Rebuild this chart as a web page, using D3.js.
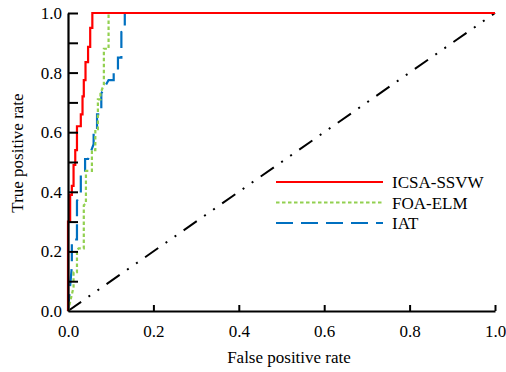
<!DOCTYPE html>
<html>
<head>
<meta charset="utf-8">
<script src="https://cdn.jsdelivr.net/npm/d3@7"></script>
<style>
  body { margin: 0; background: #fff; }
</style>
</head>
<body>
<div id="roc"></div>
<script>
// ROC points: [false positive rate, true positive rate]
var icsaPts = [[0,0],[0,0.30],[0.005,0.30],[0.005,0.39],[0.009,0.39],[0.009,0.42],[0.013,0.42],[0.013,0.49],
  [0.017,0.49],[0.017,0.54],[0.021,0.54],[0.021,0.62],[0.030,0.62],[0.030,0.66],[0.034,0.66],[0.034,0.72],
  [0.037,0.72],[0.037,0.775],[0.041,0.775],[0.041,0.835],[0.047,0.835],[0.047,0.886],[0.052,0.886],[0.052,0.95],
  [0.057,0.95],[0.057,1.0],[1.0,1.0]];
var foaPts = [[0,0],[0.013,0.08],[0.013,0.13],[0.021,0.13],[0.021,0.205],[0.025,0.21],[0.037,0.21],[0.037,0.355],
  [0.042,0.36],[0.042,0.47],[0.056,0.47],[0.056,0.54],[0.064,0.54],[0.064,0.61],[0.070,0.61],[0.070,0.71],
  [0.076,0.71],[0.076,0.73],[0.084,0.76],[0.084,0.88],[0.095,0.88],[0.095,1.0],[1.0,1.0]];
var iatPts = [[0,0],[0.009,0.15],[0.009,0.24],[0.021,0.24],[0.021,0.37],[0.030,0.39],[0.030,0.47],[0.040,0.47],
  [0.040,0.51],[0.047,0.51],[0.060,0.56],[0.060,0.60],[0.068,0.60],[0.068,0.66],[0.078,0.66],[0.078,0.73],
  [0.095,0.775],[0.107,0.775],[0.107,0.80],[0.117,0.80],[0.117,0.85],[0.125,0.85],[0.125,0.936],[0.133,0.94],
  [0.133,1.0],[1.0,1.0]];
var chancePts = [[0,0],[1,1]];
var seriesNames = ["ICSA-SSVW", "FOA-ELM", "IAT"];
var xTicks = [0, 0.2, 0.4, 0.6, 0.8, 1.0];
var yTicks = [0, 0.1, 0.2, 0.3, 0.4, 0.5, 0.6, 0.7, 0.8, 0.9, 1.0];
var yLabelTicks = [0, 0.2, 0.4, 0.6, 0.8, 1.0];

var W = 506, H = 372;
var margin = {top: 13, right: 11, bottom: 61, left: 68},
    width = W - margin.left - margin.right,
    height = H - margin.top - margin.bottom;

var svg = d3.select("#roc").append("svg")
    .attr("width", W).attr("height", H)
  .append("g")
    .attr("transform", "translate(" + margin.left + "," + margin.top + ")");

var x = d3.scaleLinear().domain([0, 1]).range([0, width]);
var y = d3.scaleLinear().domain([0, 1]).range([height, 0]);
var line = d3.line().x(d => x(d[0])).y(d => y(d[1]));

// chance diagonal, dash-dot-dot
svg.append("path").datum(chancePts)
  .attr("d", line).attr("fill", "none")
  .attr("stroke", "#000").attr("stroke-width", 2)
  .attr("stroke-dasharray", "16,9,2,9,2,9");

var styles = [
  {pts: icsaPts, color: "#ff0000", dash: null},
  {pts: foaPts, color: "#92d050", dash: "3.5,2.5"},
  {pts: iatPts, color: "#0070c0", dash: "17,8"}
];

// red drawn last so it sits on top along tpr = 1
styles.slice().reverse().forEach(s => {
  svg.append("path").datum(s.pts)
    .attr("d", line).attr("fill", "none")
    .attr("stroke", s.color).attr("stroke-width", 2.2)
    .attr("stroke-dasharray", s.dash);
});

// axes
var xAxis = svg.append("g")
  .attr("transform", "translate(0," + height + ")")
  .call(d3.axisBottom(x).tickValues(xTicks).tickFormat(d3.format(".1f")).tickSize(-6).tickSizeOuter(0).tickPadding(14));
xAxis.select(".domain").attr("stroke-width", 2.2);
xAxis.selectAll(".tick line").attr("stroke-width", 2);
xAxis.selectAll(".tick").filter(d => d === 0).select("line").remove();

var yAxis = svg.append("g")
  .call(d3.axisLeft(y).tickValues(yTicks).tickFormat(d => yLabelTicks.includes(d) ? d3.format(".1f")(d) : "")
    .tickSize(-10).tickSizeOuter(0).tickPadding(6));
yAxis.select(".domain").attr("stroke-width", 2.2);
yAxis.selectAll(".tick line").attr("stroke-width", 2);
yAxis.selectAll(".tick").filter(d => d === 0).select("line").remove();

// axis titles
svg.append("text")
  .attr("x", 221).attr("y", height + 52)
  .attr("text-anchor", "middle")
  .text("False positive rate");

svg.append("text")
  .attr("transform", "rotate(-90)")
  .attr("x", -140).attr("y", -45)
  .attr("text-anchor", "middle")
  .text("True positive rate");

// legend
var legend = svg.append("g").attr("transform", "translate(208,169)");
styles.forEach((s, i) => {
  var row = legend.append("g").attr("transform", "translate(0," + (i * 20.5) + ")");
  row.append("line")
    .attr("x1", 0).attr("x2", 107)
    .attr("stroke", s.color).attr("stroke-width", 2.2)
    .attr("stroke-dasharray", s.dash);
  row.append("text")
    .attr("x", 116).attr("y", 6)
    .text(seriesNames[i]);
});

// Times-like font on every label
d3.selectAll("svg text")
  .style("font-family", "Liberation Serif")
  .style("font-size", "17px")
  .style("fill", "#000");
</script>
</body>
</html>
